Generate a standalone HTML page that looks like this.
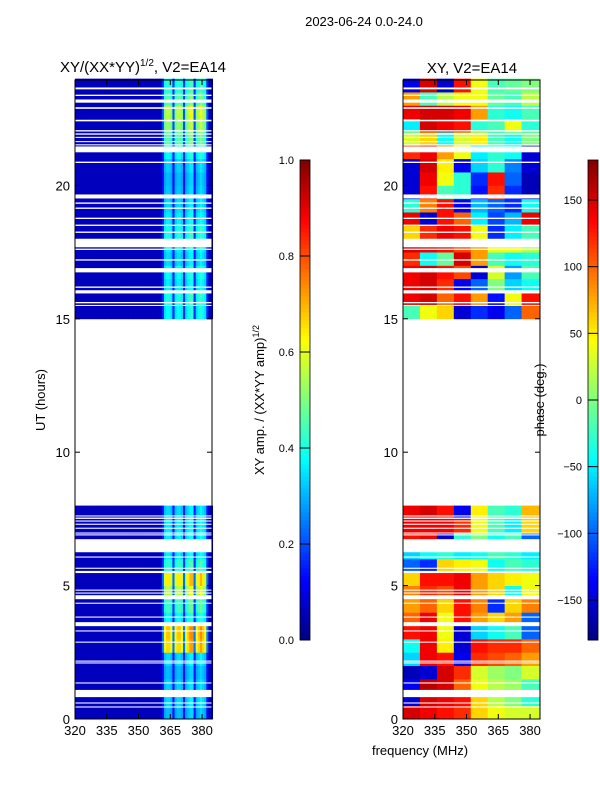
<!DOCTYPE html>
<html><head><meta charset="utf-8"><style>
body{margin:0;background:#fff;width:600px;height:800px;overflow:hidden}
svg text{font-family:"Liberation Sans","DejaVu Sans",sans-serif;fill:#000}
</style></head><body>
<svg id="fig" width="600" height="800" xmlns="http://www.w3.org/2000/svg">
<g id="left"></g>
<g id="right"></g>
<g id="axes"></g>
<g id="cbars"></g>
<text x="364" y="26" font-size="13" text-anchor="middle">2023-06-24 0.0-24.0</text>
<text x="143" y="72" font-size="15" text-anchor="middle">XY/(XX*YY)<tspan font-size="10" dy="-6">1/2</tspan><tspan dy="6">, V2=EA14</tspan></text>
<text x="472" y="73" font-size="15" text-anchor="middle">XY, V2=EA14</text>
<text x="45" y="400" font-size="13" text-anchor="middle" transform="rotate(-90 45 400)">UT (hours)</text>
<text x="420" y="755" font-size="13" text-anchor="middle">frequency (MHz)</text>
<text x="264" y="400" font-size="13" text-anchor="middle" transform="rotate(-90 264 400)">XY amp. / (XX*YY amp)<tspan font-size="9" dy="-5">1/2</tspan></text>
<text x="544" y="400" font-size="13" text-anchor="middle" transform="rotate(-90 544 400)">phase (deg.)</text>
</svg>
<script>
// ---- data ----
const freqTicks = [320, 335, 350, 365, 380];
const timeTicks = [0, 5, 10, 15, 20];
const ampTicks = [0.0, 0.2, 0.4, 0.6, 0.8, 1.0];
const phaseTicks = [150, 100, 50, 0, -50, -100, -150];
// band membership per 1-MHz channel 320..384 (1=band, 0.3=band gap, 0=off band)
const bandProfile = [0,0,0,0,0,0,0,0,0,0, 0,0,0,0,0,0,0,0,0,0, 0,0,0,0,0,0,0,0,0,0, 0,0,0,0,0,0,0,0,0,0, 0,0.3,0.9,1,1,0.9,0.3,0.9,1,1, 0.9,0.3,0.9,1,1.1,1.1,0.3,0.9,1,1.1, 1,0.9,0.3,0,0];
// band amplitude per half-hour row (0..24h), null = no data
const ampBand = [0.25,0.28,0.27,0.25,0.28,0.6,0.62,0.32, 0.38,0.5,0.58,0.36,0.3,0.3,0.3,0.28,
 null,null,null,null,null,null,null,null,null,null,null,null,null,null,
 0.32,0.34,0.3,0.32,0.28,0.3,0.34,0.3,0.28,0.26,0.25,0.27,0.32,0.4,0.46,0.5,0.4,0.35];
// phase (deg) per half-hour row, 8 blocks of 8 MHz
const phaseRows = [
 [150,140,130,120,60,40,30,30],[-150,150,140,130,60,20,0,-30],[-140,160,150,100,40,20,10,-20],[-160,-150,150,120,30,10,0,30],
 [-60,140,130,-140,120,110,100,80],[-40,140,50,-150,130,120,120,100],[130,140,40,-150,-60,-40,-20,-100],[100,140,40,130,80,60,80,-100],
 [80,100,60,130,90,-120,60,90],[90,120,110,140,80,60,-40,40],[60,130,130,140,80,60,50,40],[-100,-120,60,50,40,-40,-20,-30],
 [-60,-40,-30,-50,-40,-20,-30,-50],[130,140,-150,-30,0,-40,-20,-100],[140,140,140,120,40,-20,-50,60],[140,150,130,-140,50,-20,-30,70],
 null,null,null,null,null,null,null,null,null,null,null,null,null,null,
 [-20,40,60,-150,-120,-140,-100,100],[140,150,100,130,80,-130,40,130],[140,150,120,-140,-100,0,-60,-40],[140,150,130,110,-150,30,-80,-20],
 [120,-40,-10,150,80,-20,-40,-30],[150,140,130,110,80,40,40,20],[60,120,140,130,40,-120,-50,-20],[140,-150,130,100,-50,-110,-70,140],
 [-30,90,130,-140,-70,-100,-120,-40],[-150,130,-20,-30,-130,120,-120,-160],[-150,140,40,-30,-120,130,-100,-160],[-150,150,50,-140,-60,-30,-90,-150],
 [120,140,80,40,-50,-30,-40,-150],[30,60,-40,30,50,-20,-40,0],[-50,150,140,130,-30,-20,40,-30],[140,150,150,140,80,-30,-40,-20],
 [80,-20,20,40,40,-10,-20,20],[-140,150,-150,130,40,-20,-10,0]];
// flagged (blank) time intervals in hours
const gaps = [[23.6,23.67],[23.35,23.4],[23.1,23.22],[22.87,22.93],[22.4,22.46],[22.02,22.07],[21.9,21.95],[21.78,21.82],[21.62,21.66],[21.5,21.54],[21.24,21.46],
 [20.84,20.89],[19.51,19.66],[19.31,19.36],[19.12,19.17],[18.74,18.79],[18.48,18.53],[18.22,18.27],[17.68,18.0],[17.58,17.63],[17.18,17.23],[16.74,16.9],
 [16.16,16.21],[15.95,16.07],[15.58,15.63],[15.48,15.52],[14.0,14.9],
 [7.59,7.63],[7.5,7.55],[7.4,7.44],[7.28,7.32],[7.13,7.17],[6.95,6.99],[6.88,6.92],[6.25,6.74],[6.05,6.09],[5.63,5.67],[5.47,5.55],
 [4.81,4.85],[4.7,4.74],[4.49,4.64],[4.32,4.36],[3.8,3.84],[3.48,3.63],[3.28,3.32],[2.86,2.9],[2.15,2.19],[2.08,2.12],[1.33,1.37],[0.82,1.09],[0.58,0.62],[0.43,0.47]];

// ---- scales ----
const NS='http://www.w3.org/2000/svg';
const P={top:80,bot:719,t0:0,t1:23.95,f0:320,f1:384.7};
const L={x0:75,x1:212}, R={x0:403,x1:540};
const ty=h=>P.bot-(h-P.t0)/(P.t1-P.t0)*(P.bot-P.top);
const fx=(pan,f)=>pan.x0+(f-P.f0)/(P.f1-P.f0)*(pan.x1-pan.x0);
function jet(v){v=Math.max(0,Math.min(1,v));
 const c=x=>Math.round(255*Math.max(0,Math.min(1,x)));
 return `rgb(${c(1.5-Math.abs(4*v-3))},${c(1.5-Math.abs(4*v-2))},${c(1.5-Math.abs(4*v-1))})`;}
function mk(tag,attrs,parent){const e=document.createElementNS(NS,tag);for(const k in attrs)e.setAttribute(k,attrs[k]);parent.appendChild(e);return e;}
const gl=document.getElementById('left'), gr=document.getElementById('right');

ampBand.forEach((a,r)=>{
 if(a===null)return;
 const y1=ty(r*0.5), y0=ty(Math.min(24,(r+1)*0.5));
 bandProfile.forEach((b,c)=>{
  const v=0.06+b*a;
  const x=fx(L,320+c), w=fx(L,321+c)-x;
  const el=mk('rect',{x:x,y:y0,width:w+0.4,height:y1-y0+0.4,fill:jet(v)},gl);
  
  
 });
});
phaseRows.forEach((row,r)=>{
 if(row===null)return;
 const y1=ty(r*0.5), y0=ty(Math.min(24,(r+1)*0.5));
 row.forEach((p,k)=>{
  const x=fx(R,320+k*8), x2=k===7?R.x1:fx(R,328+k*8);
  const el=mk('rect',{x:x,y:y0,width:x2-x+0.4,height:y1-y0+0.4,fill:jet((p+180)/360)},gr);
  
  
 });
});
gaps.forEach(g=>{
 [L,R].forEach(pan=>{
  const el=mk('rect',{x:pan.x0,y:ty(g[1]),width:pan.x1-pan.x0,height:ty(g[0])-ty(g[1]),fill:'#fff'},pan===L?gl:gr);
  
  
 });
});
[L,R].forEach(pan=>{const el=mk('rect',{x:pan.x0,y:ty(14.9),width:pan.x1-pan.x0,height:ty(8.0)-ty(14.9),fill:'#fff'},pan===L?gl:gr);
 
 });

// axes
const ga=document.getElementById('axes');
[L,R].forEach((pan,i)=>{
 const fr=mk('rect',{x:pan.x0,y:P.top,width:pan.x1-pan.x0,height:P.bot-P.top,fill:'none',stroke:'#000','stroke-width':1},ga);
 
 
 freqTicks.forEach(f=>{const x=fx(pan,f);
  mk('line',{x1:x,y1:P.bot,x2:x,y2:P.bot-5,stroke:'#000'},ga);
  mk('line',{x1:x,y1:P.top,x2:x,y2:P.top+5,stroke:'#000'},ga);
  const t=mk('text',{x:x,y:P.bot+16,'font-size':13,'text-anchor':'middle'},ga);t.textContent=f;
  
  });
 timeTicks.forEach(h=>{const y=ty(h);
  mk('line',{x1:pan.x0,y1:y,x2:pan.x0+5,y2:y,stroke:'#000'},ga);
  mk('line',{x1:pan.x1,y1:y,x2:pan.x1-5,y2:y,stroke:'#000'},ga);
  const t=mk('text',{x:pan.x0-5,y:y+5,'font-size':13,'text-anchor':'end'},ga);t.textContent=h;
  
  });
});

// colorbars
const gc=document.getElementById('cbars');
function cbar(x,name,vmin,vmax,ticks,fmt){
 const top=160,bot=640,w=10;
 for(let i=0;i<120;i++){const v0=i/120;
  mk('rect',{x:x,y:bot-(i+1)*(bot-top)/120,width:w,height:(bot-top)/120+0.5,fill:jet(v0+1/240)},gc);}
 const f=mk('rect',{x:x,y:top,width:w,height:bot-top,fill:'none',stroke:'#000','stroke-width':0.8},gc);
 
 
 ticks.forEach(v=>{const y=bot-(v-vmin)/(vmax-vmin)*(bot-top);
  mk('line',{x1:x,y1:y,x2:x+w,y2:y,stroke:'#000'},gc);
  const t=mk('text',{x:x-6,y:y+4,'font-size':11,'text-anchor':'end'},gc);t.textContent=fmt(v);
  
  });
}
cbar(300,'amp-colorbar',0,1,ampTicks,v=>v.toFixed(1));
cbar(588,'phase-colorbar',-180,180,phaseTicks,v=>v<0?'\u2212'+(-v):String(v));
</script>
</body></html>
